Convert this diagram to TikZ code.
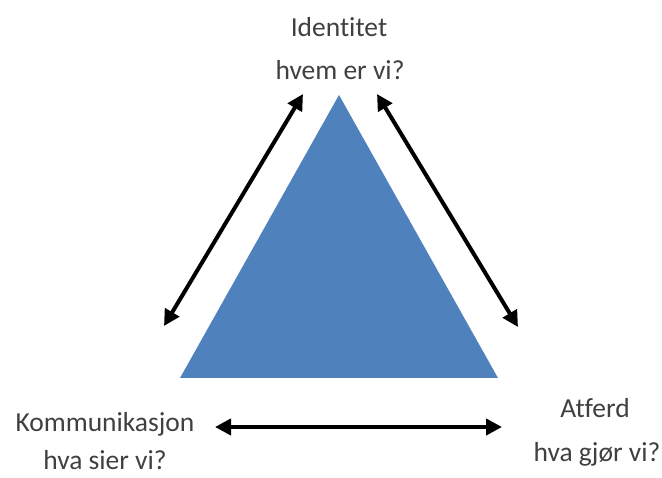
\documentclass[tikz,border=0pt]{standalone}
\usepackage{fontspec}
\setmainfont[Ligatures=NoCommon]{Carlito}
\usetikzlibrary{arrows.meta}
\definecolor{triblue}{HTML}{4F81BD}
\definecolor{txtgray}{HTML}{404040}

\begin{document}
\begin{tikzpicture}[x=1pt,y=-1pt,
	lbl/.style={text=txtgray,font=\fontsize{27.5}{30}\selectfont,inner sep=0pt,anchor=base},
	link/.style={{Stealth[length=16pt,width=16pt,inset=0pt]}-{Stealth[length=16pt,width=16pt,inset=0pt]},line width=4pt}]
	\useasboundingbox (0,0) rectangle (662,478);
	% triangle
	\fill[triblue] (339,95) -- (498,378) -- (180,378) -- cycle;
	% labels
	\node[lbl] (id) at (339,37) {Identitet};
	\node[lbl] (idq) at (340,80) {hvem er vi?};
	\node[lbl] (kom) at (105,432) {Kommunikasjon};
	\node[lbl] (komq) at (105,470) {hva sier vi?};
	\node[lbl] (atf) at (595,418) {Atferd};
	\node[lbl] (atfq) at (597,462) {hva gjør vi?};
	% arrow ends
	\coordinate (a1) at (164,326);
	\coordinate (a2) at (303,94);
	\coordinate (b1) at (377,94);
	\coordinate (b2) at (518,327);
	\coordinate (c1) at (215,427);
	\coordinate (c2) at (502,427);
	\draw[link] (a1) -- (a2);
	\draw[link] (b1) -- (b2);
	\draw[link] (c1) -- (c2);
\end{tikzpicture}
\end{document}
